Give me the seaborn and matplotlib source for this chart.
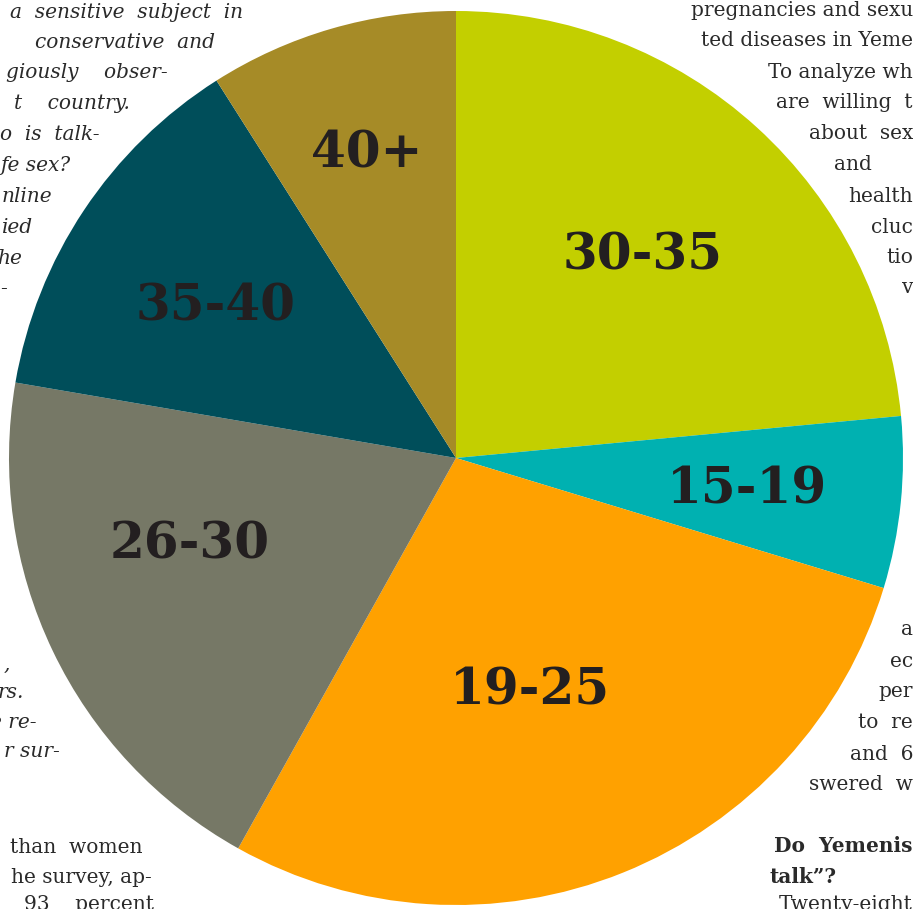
import numpy as np
import matplotlib
matplotlib.use("Agg")
import matplotlib.pyplot as plt
import seaborn as sns

# age groups of survey respondents, clockwise from 12 o'clock
age_groups = ["30-35", "15-19", "19-25", "26-30", "35-40", "40+"]
shares = [23.5, 6.2, 28.4, 19.6, 13.3, 9.0]
slice_colors = ["#c3cf00", "#00b1b1", "#ffa100", "#767866", "#004e5a", "#a68b27"]

# label placement tweaks (fraction of radius, angle nudge in degrees)
label_radius = [0.62, 0.655, 0.54, 0.625, 0.64, 0.715]
label_nudge = [0, 0, 4, 8, -1, 0]

# newspaper body text that wraps around the graphic (only the visible fragments)
body_text = [
    # (x, baseline, text, align, style, weight)
    (243, 18, "a  sensitive  subject  in", "right", "italic", "normal"),
    (215, 48, "conservative  and", "right", "italic", "normal"),
    (168, 78, "giously    obser-", "right", "italic", "normal"),
    (130, 109, "t    country.", "right", "italic", "normal"),
    (100, 140, "o  is  talk-", "right", "italic", "normal"),
    (70, 171, "fe sex?", "right", "italic", "normal"),
    (52, 202, "nline", "right", "italic", "normal"),
    (33, 233, "ied", "right", "italic", "normal"),
    (22, 264, "he", "right", "italic", "normal"),
    (7, 294, "-", "right", "italic", "normal"),
    (10, 670, ",", "right", "italic", "normal"),
    (24, 698, "rs.", "right", "italic", "normal"),
    (37, 728, "e re-", "right", "italic", "normal"),
    (60, 757, "r sur-", "right", "italic", "normal"),
    (142, 853, "than  women", "right", "normal", "normal"),
    (152, 883, "he survey, ap-", "right", "normal", "normal"),
    (154, 910, "93    percent", "right", "normal", "normal"),
    (913, 16, "pregnancies and sexu", "right", "normal", "normal"),
    (913, 46, "ted diseases in Yeme", "right", "normal", "normal"),
    (913, 78, "To analyze wh", "right", "normal", "normal"),
    (913, 108, "are  willing  t", "right", "normal", "normal"),
    (913, 139, "about  sex", "right", "normal", "normal"),
    (834, 170, "and", "left", "normal", "normal"),
    (913, 202, "health", "right", "normal", "normal"),
    (913, 233, "cluc", "right", "normal", "normal"),
    (913, 263, "tio", "right", "normal", "normal"),
    (913, 293, "v", "right", "normal", "normal"),
    (913, 635, "a", "right", "normal", "normal"),
    (913, 667, "ec", "right", "normal", "normal"),
    (913, 697, "per", "right", "normal", "normal"),
    (913, 728, "to  re", "right", "normal", "normal"),
    (913, 760, "and  6", "right", "normal", "normal"),
    (913, 790, "swered  w", "right", "normal", "normal"),
    (913, 852, "Do  Yemenis", "right", "normal", "bold"),
    (770, 883, "talk\u201d?", "left", "normal", "bold"),
    (913, 910, "Twenty-eight", "right", "normal", "normal"),
]

sns.set_theme(style="white")
plt.rcParams["font.family"] = ["DejaVu Serif"]

W, H = 913, 909
fig = plt.figure(figsize=(W / 100, H / 100), dpi=100)
ax = fig.add_axes([0, 0, 1, 1])

center = (456, 458)
radius = 447
palette = sns.color_palette(slice_colors)

# y axis is inverted (pixel-like), so counterclock in data = clockwise on screen
wedges, _ = ax.pie(shares, colors=palette, startangle=-90, counterclock=True,
                   center=center, radius=radius,
                   wedgeprops=dict(linewidth=0, zorder=5))

for w, name, rf, nudge in zip(wedges, age_groups, label_radius, label_nudge):
    mid = np.deg2rad((w.theta1 + w.theta2) / 2 + nudge)
    x = center[0] + rf * radius * np.cos(mid)
    y = center[1] + rf * radius * np.sin(mid) + 3
    ax.text(x, y, name, ha="center", va="center", fontsize=36,
            fontweight="bold", color="#231f20", zorder=10)

for x, y, txt, ha, style, weight in body_text:
    ax.text(x, y, txt, ha=ha, va="baseline", fontsize=14.5, style=style,
            fontweight=weight, color="#2a2a2a", zorder=1)

ax.set_xlim(0, W)
ax.set_ylim(H, 0)
ax.set_aspect("auto")
ax.axis("off")

plt.savefig("out.png", dpi=100)
plt.close()
